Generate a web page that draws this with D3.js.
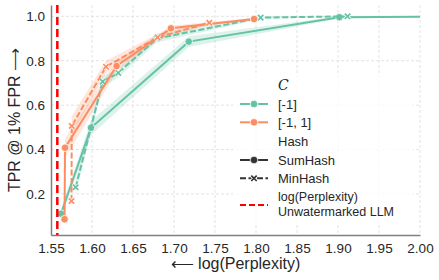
<!DOCTYPE html>
<html><head><meta charset="utf-8">
<script src="https://cdn.jsdelivr.net/npm/d3@7"></script>
<style>body{margin:0;background:#fff}svg{display:block;font-family:"Liberation Sans",Arial,sans-serif}</style>
</head><body><svg id="c" width="439" height="280"></svg>
<script>
const xTicks=[1.55,1.60,1.65,1.70,1.75,1.80,1.85,1.90,1.95,2.00];
const yTicks=[0.2,0.4,0.6,0.8,1.0];
const refX=1.5577;
// C = [-1], SumHash
const gSumX=[1.5622,1.5988,1.718,1.9016,2.1];
const gSumY=[0.111,0.498,0.886,0.996,1.0];
const gSumLo=[0.09,0.465,0.862,0.99,1.0];
const gSumHi=[0.13,0.53,0.91,1.0,1.0];
// C = [-1], MinHash
const gMinX=[1.5801,1.613,1.632,1.679,1.8057,1.9116];
const gMinY=[0.230,0.706,0.745,0.900,0.994,1.0];
const gMinLo=[0.20,0.68,0.725,0.882,0.988,1.0];
const gMinHi=[0.26,0.73,0.765,0.922,1.0,1.0];
// C = [-1, 1], SumHash
const oSumX=[1.5665,1.5671,1.63,1.6963,1.7977];
const oSumY=[0.086,0.408,0.776,0.946,0.988];
const oSumLo=[0.07,0.36,0.75,0.935,0.983];
const oSumHi=[0.10,0.45,0.80,0.958,0.993];
// C = [-1, 1], MinHash
const oMinX=[1.5750,1.5753,1.617,1.680,1.743];
const oMinY=[0.168,0.506,0.773,0.905,0.971];
const oMinLo=[0.15,0.46,0.745,0.89,0.965];
const oMinHi=[0.19,0.55,0.80,0.92,0.978];

const green="#66c2a5", orange="#fc8d62";
const svg=d3.select("#c");
const L=51,R=420,T=5,B=235;
const x=d3.scaleLinear().domain([1.55,2.00]).range([L,R]);
const y=d3.scaleLinear().domain([0.015,1.051]).range([B,T]);

svg.append("defs").append("clipPath").attr("id","clip").append("rect").attr("x",L).attr("y",T).attr("width",R-L).attr("height",B-T);

// grid
const grid=svg.append("g").attr("stroke","#e3e3e3").attr("stroke-width",1).attr("stroke-dasharray","3,2");
xTicks.slice(1).forEach(t=>grid.append("line").attr("x1",x(t)).attr("x2",x(t)).attr("y1",T).attr("y2",B));
yTicks.forEach(t=>grid.append("line").attr("x1",L).attr("x2",R).attr("y1",y(t)).attr("y2",y(t)));

// axes
const xa=svg.append("g").attr("transform",`translate(0,${B})`).call(d3.axisBottom(x).tickValues(xTicks).tickFormat(d3.format(".2f")).tickSize(0).tickPadding(8));
const ya=svg.append("g").attr("transform",`translate(${L},0)`).call(d3.axisLeft(y).tickValues(yTicks).tickFormat(d3.format(".1f")).tickSize(0).tickPadding(6));
[xa,ya].forEach(a=>{a.select(".domain").attr("stroke","#808080").attr("stroke-width",1.5);a.selectAll("text").attr("font-size","13.5px").attr("fill","#262626").attr("font-family","Liberation Sans, Arial, sans-serif");});

const plot=svg.append("g").attr("clip-path","url(#clip)");
function series(xs,ys,lo,hi,color){
  const d=xs.map((v,i)=>({x:v,y:ys[i],lo:lo[i],hi:hi[i]}));
  plot.append("path").datum(d).attr("fill",color).attr("opacity",0.22)
    .attr("d",d3.area().x(p=>x(p.x)).y0(p=>y(p.lo)).y1(p=>y(p.hi)));
  return d;
}
function lineAndMarkers(d,color,dashed,marker){
  plot.append("path").datum(d).attr("fill","none").attr("stroke",color).attr("stroke-width",2)
    .attr("stroke-dasharray",dashed?"6,2.5":null).attr("d",d3.line().x(p=>x(p.x)).y(p=>y(p.y)));
  d.forEach(p=>drawMarker(plot,x(p.x),y(p.y),color,marker));
}
function drawMarker(g,cx,cy,color,marker){
  if(marker==="o"){
    g.append("circle").attr("cx",cx).attr("cy",cy).attr("r",3.8).attr("fill",color).attr("stroke","#fff").attr("stroke-width",0.8);
  } else {
    const s=2.7;
    const p=`M${cx-s},${cy-s}L${cx+s},${cy+s}M${cx-s},${cy+s}L${cx+s},${cy-s}`;
    g.append("path").attr("d",p).attr("stroke","#fff").attr("stroke-width",3.2).attr("fill","none");
    g.append("path").attr("d",p).attr("stroke",color).attr("stroke-width",1.7).attr("fill","none");
  }
}
const gs=series(gSumX,gSumY,gSumLo,gSumHi,green);
const gm=series(gMinX,gMinY,gMinLo,gMinHi,green);
const os=series(oSumX,oSumY,oSumLo,oSumHi,orange);
const om=series(oMinX,oMinY,oMinLo,oMinHi,orange);
lineAndMarkers(gs,green,false,"o");
lineAndMarkers(gm,green,true,"x");
lineAndMarkers(os,orange,false,"o");
lineAndMarkers(om,orange,true,"x");

// reference line
svg.append("line").attr("x1",x(refX)).attr("x2",x(refX)).attr("y1",T).attr("y2",B)
  .attr("stroke","#ff0000").attr("stroke-width",2.5).attr("stroke-dasharray","8,4");

// labels
svg.append("text").attr("x",(L+R)/2).attr("y",269).attr("text-anchor","middle").attr("font-size","16px").attr("fill","#262626").text("⟵ log(Perplexity)");
svg.append("text").attr("transform",`translate(20,${(T+B)/2}) rotate(-90)`).attr("text-anchor","middle").attr("font-size","16px").attr("fill","#262626").text("TPR @ 1% FPR ⟶");

// legend
const lg=svg.append("g");
lg.append("rect").attr("x",233).attr("y",73).attr("width",180).attr("height",152).attr("rx",3).attr("fill","#fff").attr("opacity",0.8);
const hx0=240,hx1=268,tx=278;
function handle(yy,color,dashed,marker){
  lg.append("line").attr("x1",hx0).attr("x2",hx1).attr("y1",yy).attr("y2",yy).attr("stroke",color).attr("stroke-width",2).attr("stroke-dasharray",dashed?"6,2.5":null);
  if(marker) drawMarker(lg,(hx0+hx1)/2,yy,color,marker);
}
function label(yy,t,opts){
  const e=lg.append("text").attr("x",tx).attr("y",yy+4.6).attr("font-size","13px").attr("fill","#262626").text(t);
  if(opts) e.attr("font-family",opts.ff).attr("font-style",opts.fs).attr("font-size",opts.size||"13px");
  return e;
}
label(85,"C",{ff:"DejaVu Serif, serif",fs:"italic",size:"14px"});
handle(104,green,false,"o"); label(104,"[-1]");
handle(122.3,orange,false,"o"); label(122.3,"[-1, 1]");
label(141,"Hash");
handle(160,"#333",false,"o"); label(160,"SumHash");
handle(178.3,"#333",true,"x"); label(178.3,"MinHash");
lg.append("line").attr("x1",hx0).attr("x2",hx1).attr("y1",205).attr("y2",205).attr("stroke","#ff0000").attr("stroke-width",2).attr("stroke-dasharray","6,3");
const two=lg.append("text").attr("font-size","12.5px").attr("fill","#262626");
two.append("tspan").attr("x",tx).attr("y",197+4.4).text("log(Perplexity)");
two.append("tspan").attr("x",tx).attr("y",212+4.4).text("Unwatermarked LLM");
</script></body></html>
